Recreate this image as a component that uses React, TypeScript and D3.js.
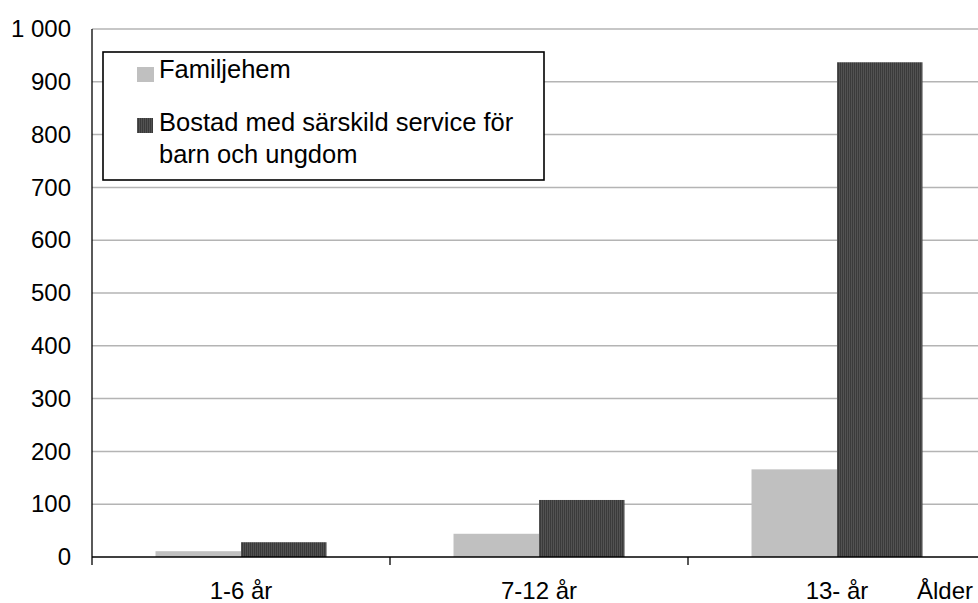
import React from "react";
import * as d3 from "d3";

const categories = ["1-6 år", "7-12 år", "13- år"];
const seriesNames = ["Familjehem", "Bostad med särskild service för barn och ungdom"];
const familjehem = [11, 44, 166];
const bostad = [28, 108, 937];
const yTicks = [0, 100, 200, 300, 400, 500, 600, 700, 800, 900, 1000];
const xAxisTitle = "Ålder";

const W = 978;
const H = 603;
const margin = { left: 92, right: -8, top: 29, bottom: 46 };
const FONT = "'Liberation Sans', Arial, sans-serif";
const FS = 24;
const LFS = 25.5;

export default function App() {
  const x0 = d3
    .scaleBand<string>()
    .domain(categories)
    .range([margin.left, W - margin.right])
    .paddingInner(0)
    .paddingOuter(0);
  const x1 = d3
    .scaleBand<string>()
    .domain(seriesNames)
    .range([0, x0.bandwidth()])
    .paddingInner(0)
    .paddingOuter(0.743);
  const y = d3.scaleLinear().domain([0, 1000]).range([H - margin.bottom, margin.top]);
  const fmt = (v: number) => d3.format(",")(v).replace(",", " ");
  const series = [familjehem, bostad];
  const fills = ["#c0c0c0", "url(#darkPat)"];
  const y0 = y(0);
  const tickEdges = [...categories.map((c) => x0(c)!), x0(categories[categories.length - 1])! + x0.bandwidth()];

  return (
    <div style={{ position: "absolute", left: 0, top: 0 }}>
      <svg width={W} height={H} style={{ display: "block", background: "#fff" }} fontFamily={FONT}>
        <defs>
          <pattern id="darkPat" width={2} height={2} patternUnits="userSpaceOnUse">
            <rect width={2} height={2} fill="#3a3a3a" />
            <rect x={1} width={1} height={2} fill="#525252" />
          </pattern>
        </defs>
        {yTicks.filter((t) => t > 0).map((t) => (
          <line key={t} x1={margin.left} x2={W} y1={y(t)} y2={y(t)} stroke="#b4b4b4" strokeWidth={1.5} />
        ))}
        {categories.map((c, i) => (
          <g key={c}>
            {seriesNames.map((s, j) => (
              <rect
                key={s}
                x={x0(c)! + x1(s)!}
                y={y(series[j][i])}
                width={x1.bandwidth()}
                height={y0 - y(series[j][i])}
                fill={fills[j]}
              />
            ))}
          </g>
        ))}
        <line x1={margin.left} x2={margin.left} y1={margin.top} y2={y0} stroke="#000" strokeWidth={1.3} />
        <line x1={margin.left} x2={W} y1={y0} y2={y0} stroke="#000" strokeWidth={1.3} />
        {tickEdges.map((tx, i) => (
          <line key={i} x1={tx} x2={tx} y1={y0} y2={y0 + 8} stroke="#000" strokeWidth={1.3} />
        ))}
        {yTicks.map((t) => (
          <text key={t} x={71} y={y(t)} dy="0.34em" textAnchor="end" fontSize={FS} fill="#000">
            {fmt(t)}
          </text>
        ))}
        {categories.map((c) => (
          <text key={c} x={x0(c)! + x0.bandwidth() / 2} y={599} textAnchor="middle" fontSize={FS} fill="#000">
            {c}
          </text>
        ))}
        <text x={917} y={599} fontSize={FS} fill="#000">
          {xAxisTitle}
        </text>
        <rect x={103} y={52} width={441} height={128} fill="#fff" stroke="#000" strokeWidth={1.6} />
        <rect x={137} y={67} width={17} height={15} fill={fills[0]} />
        <text x={159} y={78} fontSize={LFS} fill="#000">
          {seriesNames[0]}
        </text>
        <rect x={137} y={118} width={16} height={15} fill={fills[1]} />
        <text x={159} y={131} fontSize={LFS} fill="#000">
          <tspan x={159}>Bostad med särskild service för</tspan>
          <tspan x={159} dy={32}>barn och ungdom</tspan>
        </text>
      </svg>
    </div>
  );
}
